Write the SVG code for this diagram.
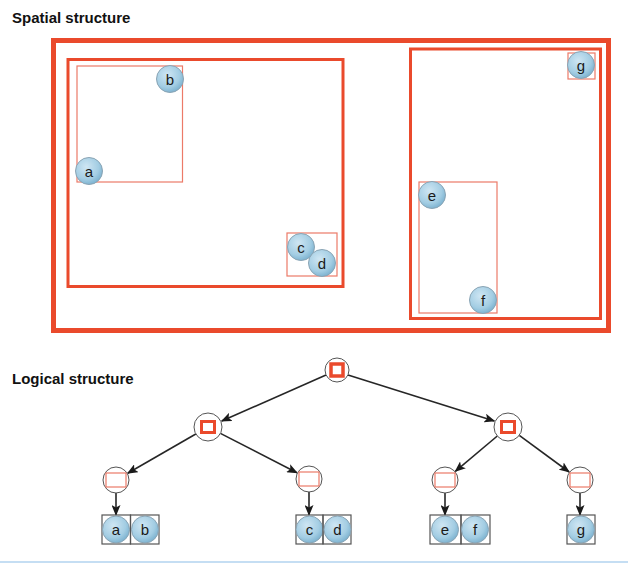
<svg xmlns="http://www.w3.org/2000/svg" width="628" height="563" viewBox="0 0 628 563">
<defs>
<radialGradient id="ball" cx="0.4" cy="0.35" r="0.7">
<stop offset="0" stop-color="#cfe6f3"/>
<stop offset="0.65" stop-color="#a3cde3"/>
<stop offset="1" stop-color="#76aecd"/>
</radialGradient>
<marker id="arr" markerWidth="11" markerHeight="9" refX="10" refY="4.5" orient="auto" markerUnits="userSpaceOnUse">
<path d="M0,0 L11,4.5 L0,9 L2.5,4.5 Z" fill="#1a1a1a"/>
</marker>
</defs>
<style>
.title{font-family:"Liberation Sans",Arial,sans-serif;font-weight:bold;font-size:15px;fill:#111}
.lbl{font-family:"Liberation Sans",Arial,sans-serif;font-size:15px;fill:#1a1a1a;text-anchor:middle}
.ball{fill:url(#ball);stroke:#8aa4b4;stroke-width:1}
.thick{fill:none;stroke:#ea4a2c;stroke-width:5}
.mid{fill:none;stroke:#ea4a2c;stroke-width:3}
.thin{fill:none;stroke:#ec7a68;stroke-width:1.2}
.node{fill:#fff;stroke:#555;stroke-width:1}
.leafbox{fill:none;stroke:#555;stroke-width:1.2}
.edge{stroke:#262626;stroke-width:1.6;fill:none;marker-end:url(#arr)}
</style>
<rect width="628" height="563" fill="#fff"/>
<text class="title" x="12" y="23">Spatial structure</text>
<text class="title" x="12" y="384">Logical structure</text>

<g id="spatial">
<rect class="thick" x="53.5" y="40.5" width="555" height="290"/>
<rect class="mid" x="68" y="59.5" width="275" height="227"/>
<rect class="mid" x="410.5" y="49" width="190" height="269.5"/>
<rect class="thin" x="77" y="66" width="105.5" height="116"/>
<rect class="thin" x="287" y="233" width="50" height="43"/>
<rect class="thin" x="419" y="182" width="78" height="131"/>
<rect class="thin" x="568" y="53" width="27" height="26"/>
<g id="s-a"><circle class="ball" cx="89" cy="171" r="13.5"/><text class="lbl" x="89" y="176.5">a</text></g>
<g id="s-b"><circle class="ball" cx="170" cy="79" r="13.5"/><text class="lbl" x="170" y="84.5">b</text></g>
<g id="s-c"><circle class="ball" cx="301" cy="247" r="13.5"/><text class="lbl" x="301" y="252.5">c</text></g>
<g id="s-d"><circle class="ball" cx="322" cy="263" r="13.5"/><text class="lbl" x="322" y="268.5">d</text></g>
<g id="s-e"><circle class="ball" cx="432" cy="195" r="13.5"/><text class="lbl" x="432" y="200.5">e</text></g>
<g id="s-f"><circle class="ball" cx="483" cy="300" r="13.5"/><text class="lbl" x="483" y="305.5">f</text></g>
<g id="s-g"><circle class="ball" cx="581" cy="65" r="13.5"/><text class="lbl" x="581" y="70.5">g</text></g>
</g>

<g id="connectors">
<line class="edge" x1="326" y1="375" x2="221.7" y2="421"/>
<line class="edge" x1="348" y1="375" x2="494.3" y2="421"/>
<line class="edge" x1="195.8" y1="434" x2="127.7" y2="473.2"/>
<line class="edge" x1="220.4" y1="433.4" x2="297" y2="472.8"/>
<line class="edge" x1="497.3" y1="436" x2="455.3" y2="471.3"/>
<line class="edge" x1="519.3" y1="435.3" x2="569.1" y2="472"/>
<line class="edge" x1="116" y1="493" x2="116" y2="515"/>
<line class="edge" x1="309" y1="492" x2="309" y2="515"/>
<line class="edge" x1="445" y1="493" x2="445" y2="515"/>
<line class="edge" x1="580" y1="493" x2="580" y2="515"/>
</g>

<g id="root"><circle class="node" cx="337" cy="370" r="12"/><rect x="331" y="364" width="12" height="12" fill="none" stroke="#ea4a2c" stroke-width="3.5"/></g>
<g id="n-left"><circle class="node" cx="208" cy="427" r="14"/><rect x="201.5" y="421.5" width="13" height="11" fill="none" stroke="#ea4a2c" stroke-width="3"/></g>
<g id="n-right"><circle class="node" cx="508" cy="427" r="14"/><rect x="501.5" y="421.5" width="13" height="11" fill="none" stroke="#ea4a2c" stroke-width="3"/></g>
<g id="n-ab"><circle class="node" cx="116" cy="480" r="13"/><rect class="thin" x="106" y="473" width="20" height="14"/></g>
<g id="n-cd"><circle class="node" cx="309" cy="479" r="13"/><rect class="thin" x="299" y="472" width="20" height="14"/></g>
<g id="n-ef"><circle class="node" cx="445" cy="480" r="13"/><rect class="thin" x="435" y="473" width="20" height="14"/></g>
<g id="n-g"><circle class="node" cx="580" cy="480" r="13"/><rect class="thin" x="570" y="473" width="20" height="14"/></g>

<g id="leaf-a"><rect class="leafbox" x="102" y="515" width="28.5" height="29"/><circle class="ball" cx="116" cy="529.5" r="13.5"/><text class="lbl" x="116" y="535">a</text></g>
<g id="leaf-b"><rect class="leafbox" x="130.5" y="515" width="28.5" height="29"/><circle class="ball" cx="145" cy="529.5" r="13.5"/><text class="lbl" x="145" y="535">b</text></g>
<g id="leaf-c"><rect class="leafbox" x="296" y="515" width="27" height="29"/><circle class="ball" cx="309.5" cy="529.5" r="13.5"/><text class="lbl" x="309.5" y="535">c</text></g>
<g id="leaf-d"><rect class="leafbox" x="323" y="515" width="28" height="29"/><circle class="ball" cx="337.5" cy="529.5" r="13.5"/><text class="lbl" x="337.5" y="535">d</text></g>
<g id="leaf-e"><rect class="leafbox" x="430" y="515" width="31" height="29"/><circle class="ball" cx="445" cy="529.5" r="13.5"/><text class="lbl" x="445" y="535">e</text></g>
<g id="leaf-f"><rect class="leafbox" x="461" y="515" width="29" height="29"/><circle class="ball" cx="475" cy="529.5" r="13.5"/><text class="lbl" x="475" y="535">f</text></g>
<g id="leaf-g"><rect class="leafbox" x="567" y="515" width="28" height="29"/><circle class="ball" cx="581" cy="529.5" r="13.5"/><text class="lbl" x="581" y="535">g</text></g>

<rect x="0" y="561" width="628" height="2" fill="#c5def3"/>
</svg>
